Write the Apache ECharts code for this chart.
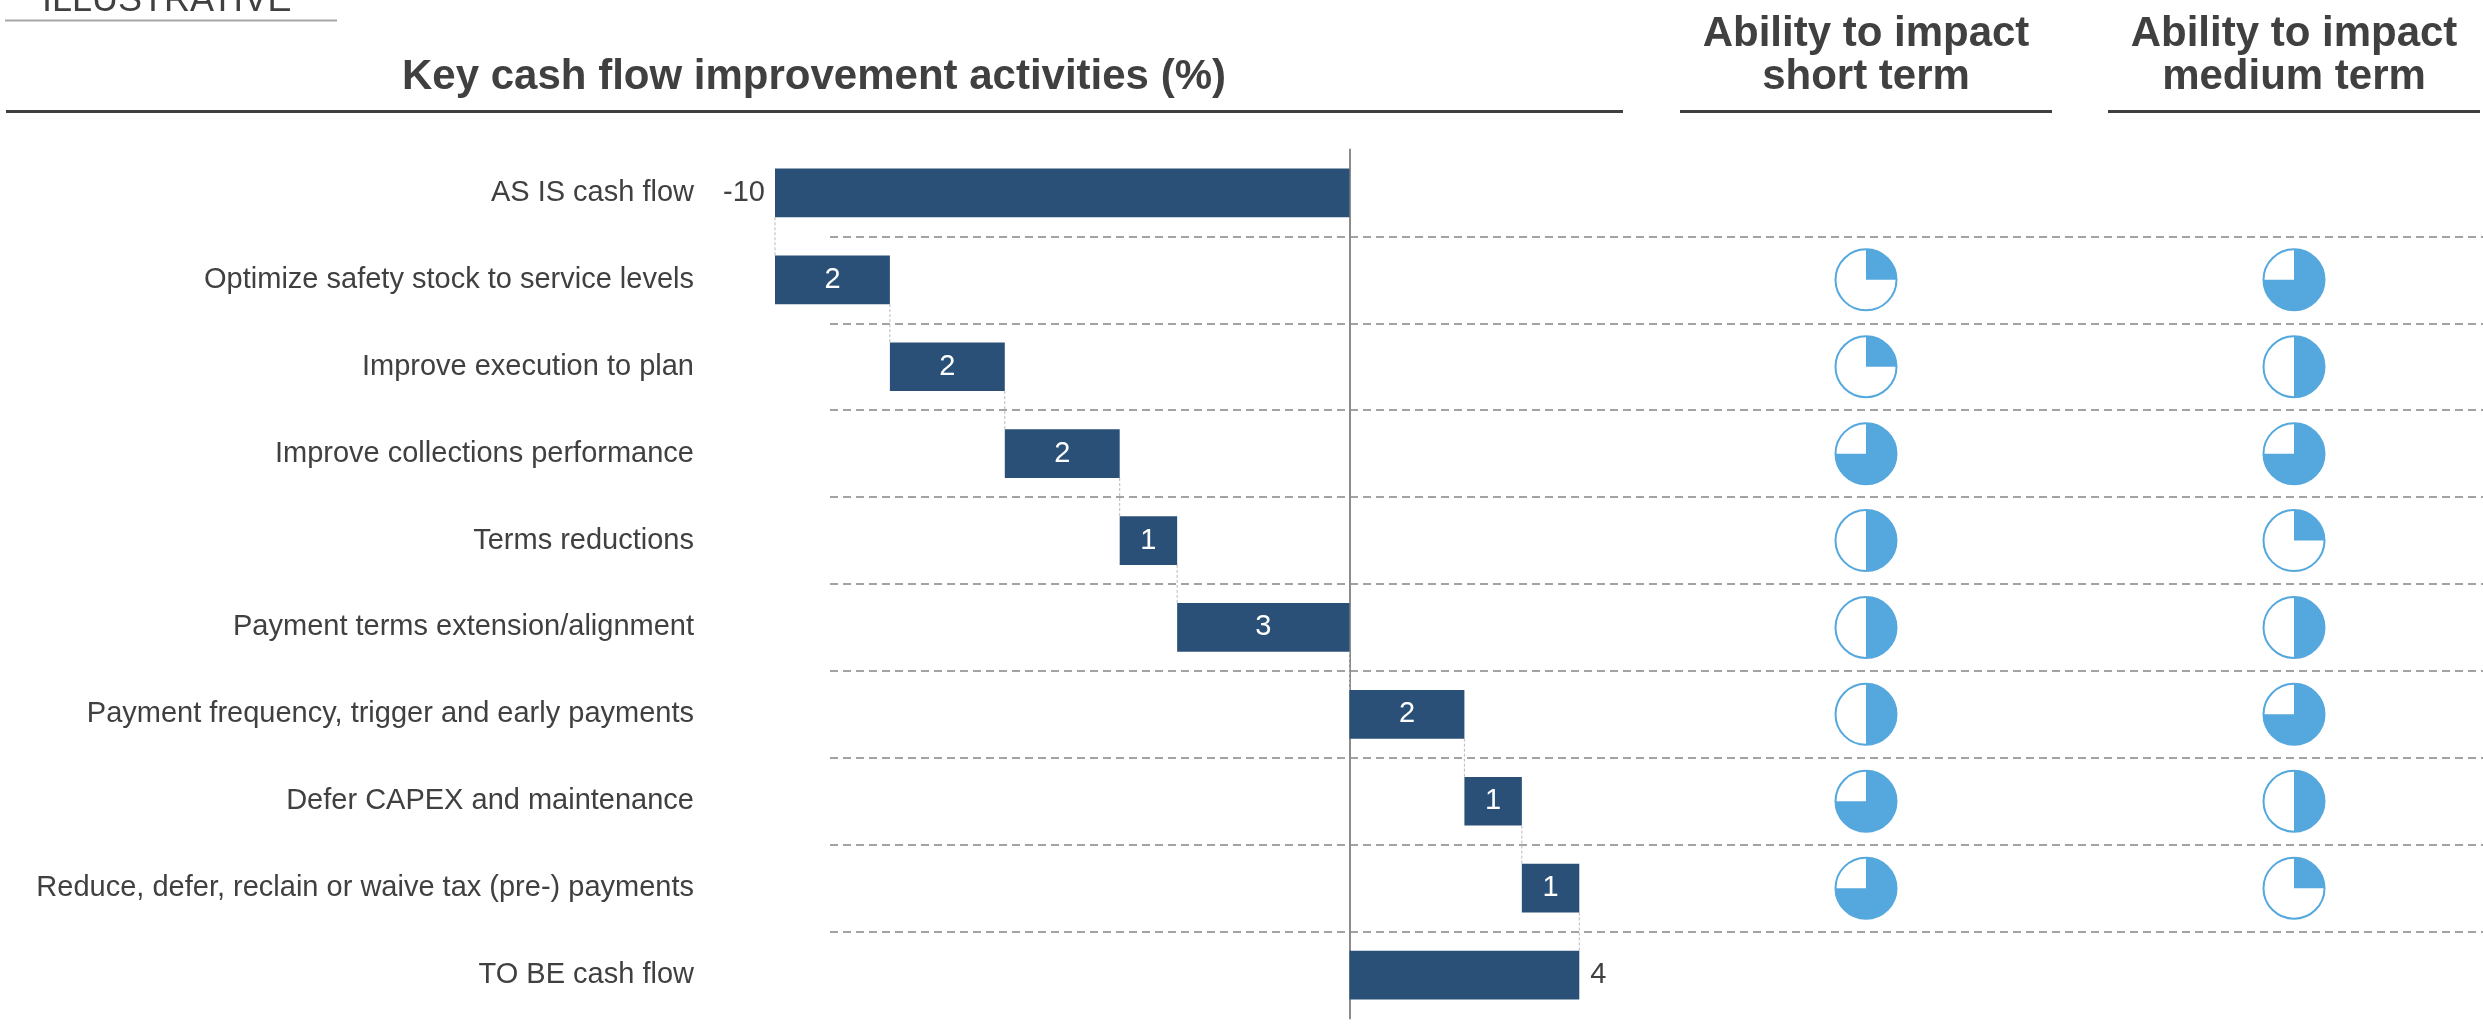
<!DOCTYPE html>
<html>
<head>
<meta charset="utf-8">
<title>Key cash flow improvement activities</title>
<script src="https://cdn.jsdelivr.net/npm/echarts@6/dist/echarts.min.js"></script>
<style>
  html, body { margin: 0; padding: 0; background: #ffffff; }
  #chart { width: 2483px; height: 1024px; }
</style>
</head>
<body>
<div id="chart"></div>
<script>
// Activities, listed top to bottom
const categories = [
  'AS IS cash flow',
  'Optimize safety stock to service levels',
  'Improve execution to plan',
  'Improve collections performance',
  'Terms reductions',
  'Payment terms extension/alignment',
  'Payment frequency, trigger and early payments',
  'Defer CAPEX and maintenance',
  'Reduce, defer, reclain or waive tax (pre-) payments',
  'TO BE cash flow'
];

// Cash-flow effect of each activity (%); first and last rows are totals
const cashFlowChange = [-10, 2, 2, 2, 1, 3, 2, 1, 1, 4];
const isTotal = [true, false, false, false, false, false, false, false, false, true];

// Ability to impact, as filled quarters of a Harvey ball (null = not rated)
const impactShortTerm = [null, 1, 1, 3, 2, 2, 2, 3, 3, null];
const impactMediumTerm = [null, 3, 2, 3, 1, 2, 3, 2, 1, null];

// Column headings
const chartTitle = 'Key cash flow improvement activities (%)';
const impactHeaders = ['Ability to impact\nshort term', 'Ability to impact\nmedium term'];
const stampText = 'ILLUSTRATIVE';

const FONT = '"Liberation Sans", Arial, Helvetica, sans-serif';
const TEXT = '#404040';
const BAR = '#2a5078';
const BALL = '#55a8de';

// Waterfall steps: [row, from, to, change, total flag]
const waterfallData = [];
let running = 0;
cashFlowChange.forEach(function (v, i) {
  let from, to;
  if (isTotal[i]) { from = 0; to = v; }
  else { from = running; to = running + v; }
  running = to;
  waterfallData.push([i, from, to, v, isTotal[i] ? 1 : 0]);
});

function ballData(levels, col) {
  const out = [];
  levels.forEach(function (q, i) { if (q != null) out.push([col, i, q]); });
  return out;
}

function renderStep(params, api) {
  const row = api.value(0);
  const from = api.value(1), to = api.value(2), change = api.value(3), total = api.value(4);
  const p0 = api.coord([from, row]);
  const p1 = api.coord([to, row]);
  const h = api.size([0, 1])[1] * 0.56;
  const x0 = Math.min(p0[0], p1[0]);
  const x1 = Math.max(p0[0], p1[0]);
  const cy = p0[1];
  const children = [{
    type: 'rect',
    shape: { x: x0, y: cy - h / 2, width: x1 - x0, height: h },
    style: { fill: BAR }
  }];
  if (total) {
    const neg = change < 0;
    children.push({
      type: 'text',
      style: {
        text: String(change), x: neg ? x0 - 10 : x1 + 11, y: cy,
        align: neg ? 'right' : 'left', verticalAlign: 'middle',
        fill: TEXT, font: '29px ' + FONT
      }
    });
  } else {
    children.push({
      type: 'text',
      style: {
        text: String(change), x: (x0 + x1) / 2, y: cy,
        align: 'center', verticalAlign: 'middle',
        fill: '#ffffff', font: '29px ' + FONT
      }
    });
  }
  // thin connector down to the next step
  if (row < categories.length - 1) {
    const q = api.coord([to, row + 1]);
    children.push({
      type: 'line',
      shape: { x1: p1[0], y1: cy + h / 2, x2: q[0], y2: q[1] - h / 2 },
      style: { stroke: '#b9b9b9', lineWidth: 1, lineDash: [3, 2] }
    });
  }
  return { type: 'group', children: children };
}

function renderBall(params, api) {
  const c = api.coord([api.value(0), api.value(1)]);
  const q = api.value(2);
  const r = 30.5;
  return {
    type: 'group',
    children: [
      { type: 'circle', shape: { cx: c[0], cy: c[1], r: r }, style: { fill: '#ffffff' } },
      {
        type: 'sector',
        shape: { cx: c[0], cy: c[1], r0: 0, r: r, startAngle: -Math.PI / 2, endAngle: -Math.PI / 2 + q * Math.PI / 2, clockwise: true },
        style: { fill: BALL }
      },
      { type: 'circle', shape: { cx: c[0], cy: c[1], r: r }, style: { fill: 'none', stroke: BALL, lineWidth: 2 } }
    ]
  };
}

const rowTop = 149.5;
const rowStep = 86.9;
const nRows = categories.length;

const chart = echarts.init(document.getElementById('chart'), null, { renderer: 'canvas' });

chart.setOption({
  animation: false,
  backgroundColor: '#ffffff',
  grid: [
    { left: 775, top: rowTop, width: 804.3, height: rowStep * nRows, outerBoundsMode: 'none', containLabel: false },
    { left: 1866, top: rowTop, width: 428, height: rowStep * nRows, outerBoundsMode: 'none', containLabel: false },
    { left: 830, right: 0, top: rowTop + rowStep, height: rowStep * (nRows - 2), outerBoundsMode: 'none', containLabel: false }
  ],
  xAxis: [
    { gridIndex: 0, type: 'value', min: -10, max: 4, show: false },
    { gridIndex: 1, type: 'value', min: 0, max: 1, show: false },
    { gridIndex: 2, type: 'value', min: 0, max: 1, show: false }
  ],
  yAxis: [
    {
      gridIndex: 0, type: 'category', data: categories, inverse: true, position: 'left',
      axisLine: { show: true, onZero: true, lineStyle: { color: '#8c8c8c', width: 2 } },
      axisTick: { show: false }, axisLabel: { show: false }, splitLine: { show: false }
    },
    {
      gridIndex: 0, type: 'category', data: categories, inverse: true, position: 'left',
      axisLine: { show: false, onZero: false }, axisTick: { show: false },
      axisLabel: { show: true, margin: 81, fontSize: 29, fontFamily: FONT, color: TEXT },
      splitLine: { show: false }
    },
    { gridIndex: 1, type: 'category', data: categories, inverse: true, show: false },
    {
      gridIndex: 2, type: 'value', min: 1, max: nRows - 1, interval: 1, inverse: true,
      axisLine: { show: false }, axisTick: { show: false }, axisLabel: { show: false },
      splitLine: { show: true, lineStyle: { color: '#a3a3a3', width: 2, type: [8, 5] } }
    }
  ],
  series: [
    {
      type: 'custom', name: 'Cash flow', xAxisIndex: 0, yAxisIndex: 0,
      renderItem: renderStep, data: waterfallData, encode: { x: [1, 2], y: 0 }, z: 3, silent: true
    },
    {
      type: 'custom', name: 'Short term', xAxisIndex: 1, yAxisIndex: 2,
      renderItem: renderBall, data: ballData(impactShortTerm, 0), encode: { x: 0, y: 1 }, silent: true
    },
    {
      type: 'custom', name: 'Medium term', xAxisIndex: 1, yAxisIndex: 2,
      renderItem: renderBall, data: ballData(impactMediumTerm, 1), encode: { x: 0, y: 1 }, silent: true
    }
  ]
});

// Headings sit centred over the Harvey-ball columns
const colX = [chart.convertToPixel({ xAxisIndex: 1 }, 0), chart.convertToPixel({ xAxisIndex: 1 }, 1)];
const headerHalf = 186;

const graphics = [
  { type: 'text', x: 42, y: 1, style: { text: stampText, font: '36px ' + FONT, fill: TEXT, align: 'left', verticalAlign: 'middle' } },
  { type: 'line', shape: { x1: 5, y1: 20.5, x2: 337, y2: 20.5 }, style: { stroke: '#a6a6a6', lineWidth: 2 } },
  { type: 'text', x: 814, y: 77, style: { text: chartTitle, font: 'bold 42px ' + FONT, fill: TEXT, align: 'center', verticalAlign: 'middle' } },
  { type: 'line', shape: { x1: 6, y1: 111.5, x2: 1623, y2: 111.5 }, style: { stroke: TEXT, lineWidth: 3 } }
];
impactHeaders.forEach(function (h, i) {
  graphics.push({
    type: 'text', x: colX[i], y: 55.5,
    style: { text: h, font: 'bold 42px ' + FONT, lineHeight: 43, fill: TEXT, align: 'center', verticalAlign: 'middle' }
  });
  graphics.push({
    type: 'line', shape: { x1: colX[i] - headerHalf, y1: 111.5, x2: colX[i] + headerHalf, y2: 111.5 },
    style: { stroke: TEXT, lineWidth: 3 }
  });
});
chart.setOption({ graphic: graphics });
</script>
</body>
</html>
